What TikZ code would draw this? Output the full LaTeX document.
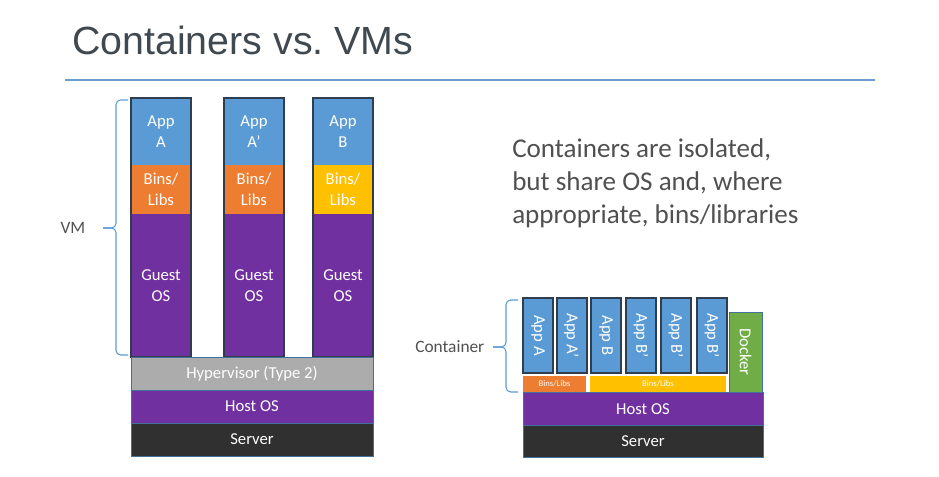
\documentclass[tikz,border=0pt]{standalone}
\usepackage{fontspec}
\setmainfont{Carlito}
\newfontfamily\titlefont{Liberation Sans}
\usepackage{tikz}
\usetikzlibrary{
  positioning
}
\definecolor{SlideTitle} {RGB}{64,72,80}
\definecolor{SlideText}  {RGB}{80,80,80}
\definecolor{RuleBlue}   {RGB}{107,155,209}
\definecolor{AppBlue}    {RGB}{91,155,213}
\definecolor{LibOrange}  {RGB}{237,125,49}
\definecolor{LibYellow}  {RGB}{255,192,0}
\definecolor{OsPurple}   {RGB}{112,48,160}
\definecolor{HyperGray}  {RGB}{172,172,172}
\definecolor{ServerDark} {RGB}{48,48,48}
\definecolor{DockerGreen}{RGB}{112,173,71}
\definecolor{FrameDark}  {RGB}{47,61,76}
\definecolor{EdgeBlue}   {RGB}{65,113,156}

\begin{document}
\begin{tikzpicture}[
  x=0.75pt, y=-0.75pt,
  box/.style={rectangle, inner sep=0pt, outer sep=0pt, align=center,
              text=white, font=\fontsize{12.5}{15.5}\selectfont},
  vmbox/.style={box, minimum width=45pt},
  layer/.style={box, draw=EdgeBlue, line width=0.6pt},
  ctbox/.style={box, rotate=-90, minimum width=56.25pt, minimum height=22.5pt,
                fill=AppBlue},
  frm/.style={draw=FrameDark, line width=1.9pt},
  brc/.style={draw=AppBlue, line width=0.8pt, rounded corners=3.5pt},
  lbl/.style={font=\fontsize{13}{15}\selectfont, text=SlideText}
]
\useasboundingbox (0,0) rectangle (939,477);

% title and rule
\node[anchor=base west, inner sep=0pt, text=SlideTitle,
      font=\titlefont\fontsize{29.5}{34}\selectfont] (title) at (72,55)
      {Containers vs.\ VMs};
\coordinate (ruleL) at (65,80);
\coordinate (ruleR) at (875,80);
\draw[RuleBlue, line width=2.2pt] (ruleL) -- (ruleR);

% VM stacks
\node[vmbox, fill=AppBlue, minimum height=50.25pt] (appA) at (161,131.5) {App\\A};
\node[vmbox, fill=LibOrange, minimum height=36.75pt, below=0pt of appA] (binsA) {Bins/\\Libs};
\node[vmbox, fill=OsPurple, minimum height=107.25pt, below=0pt of binsA] (guestA) {Guest\\OS};

\node[vmbox, fill=AppBlue, minimum height=50.25pt] (appA2) at (254,131.5) {App\\A’};
\node[vmbox, fill=LibOrange, minimum height=36.75pt, below=0pt of appA2] (binsA2) {Bins/\\Libs};
\node[vmbox, fill=OsPurple, minimum height=107.25pt, below=0pt of binsA2] (guestA2) {Guest\\OS};

\node[vmbox, fill=AppBlue, minimum height=50.25pt] (appB) at (343,131.5) {App\\B};
\node[vmbox, fill=LibYellow, minimum height=36.75pt, below=0pt of appB] (binsB) {Bins/\\Libs};
\node[vmbox, fill=OsPurple, minimum height=107.25pt, below=0pt of binsB] (guestB) {Guest\\OS};

\draw[frm] (appA.north west)  rectangle (guestA.south east);
\draw[frm] (appA2.north west) rectangle (guestA2.south east);
\draw[frm] (appB.north west)  rectangle (guestB.south east);

\node[layer, fill=HyperGray, minimum width=181.5pt, minimum height=24.75pt]
      (hyper) at (252,373.5) {Hypervisor (Type 2)};
\node[layer, fill=OsPurple, minimum width=181.5pt, minimum height=24.75pt,
      below=0pt of hyper] (hostvm) {Host OS};
\node[layer, fill=ServerDark, minimum width=181.5pt, minimum height=24.75pt,
      below=0pt of hostvm] (servervm) {Server};

\coordinate (vmtop) at (128,100);
\coordinate (vmbot) at (128,355);
\coordinate (vmtip) at (103,228);
\draw[brc] (vmtop) -- ++(-12,0) |- (vmtip);
\draw[brc] (vmbot) -- ++(-12,0) |- (vmtip);
\node[lbl, anchor=east] (vmlbl) at (90,228) {VM};

% text
\node[anchor=north west, align=left, inner sep=0pt, text=SlideText,
      font=\fontsize{20.3}{24.8}\selectfont] (note) at (512,138)
      {Containers are isolated,\\but share OS and, where\\appropriate, bins/libraries};

% container stack
\node[ctbox] (ctA)  at (538,335.5)   {App A};
\node[ctbox] (ctA2) at (571.5,335.5) {App A’};
\node[ctbox] (ctB)  at (606,335.5)   {App B};
\node[ctbox] (ctB2) at (641,335.5)   {App B’};
\node[ctbox] (ctB3) at (676,335.5)   {App B’};
\node[ctbox] (ctB4) at (712,335.5)   {App B’};
\foreach \c in {ctA,ctA2,ctB,ctB2,ctB3,ctB4}
  \draw[FrameDark, line width=1.5pt] (\c.north west) rectangle (\c.south east);

\node[box, fill=LibOrange, minimum width=47.25pt, minimum height=12pt,
      font=\fontsize{6.5}{7}\selectfont] (libsA) at (554.5,384) {Bins/Libs};
\node[box, fill=LibYellow, minimum width=102pt, minimum height=12pt,
      font=\fontsize{6.5}{7}\selectfont] (libsB) at (658,384) {Bins/Libs};
\node[box, rotate=-90, fill=DockerGreen, draw=EdgeBlue, line width=0.6pt,
      minimum width=60pt, minimum height=24.75pt] (docker) at (745.5,352) {Docker};

\node[layer, fill=OsPurple, minimum width=180pt, minimum height=24.75pt]
      (hostct) at (643,409) {Host OS};
\node[layer, fill=ServerDark, minimum width=180pt, minimum height=24pt,
      below=0pt of hostct] (serverct) {Server};

\coordinate (cttop) at (518,300);
\coordinate (ctbot) at (518,392);
\coordinate (cttip) at (493,347);
\draw[brc] (cttop) -- ++(-12,0) |- (cttip);
\draw[brc] (ctbot) -- ++(-12,0) |- (cttip);
\node[lbl, anchor=east] (ctlbl) at (489,347) {Container};

\end{tikzpicture}
\end{document}
